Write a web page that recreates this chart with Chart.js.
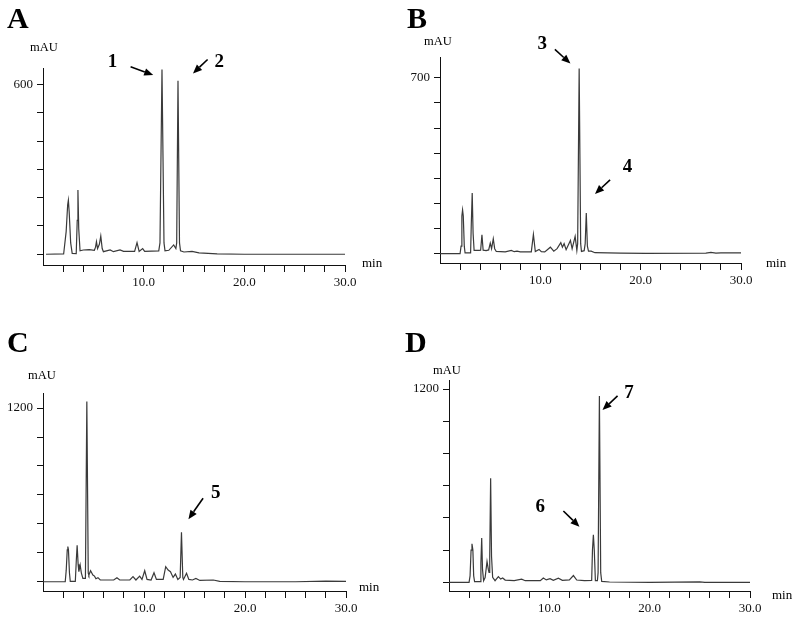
<!DOCTYPE html>
<html>
<head>
<meta charset="utf-8">
<script src="https://cdn.jsdelivr.net/npm/chart.js@4.4.1/dist/chart.umd.min.js"></script>
<style>
  body { margin: 0; background: #fff; }
  #page { position: relative; width: 800px; height: 620px; }
  .panel { position: absolute; width: 400px; height: 310px; }
</style>
</head>
<body>
<div id="page">
  <div class="panel" style="left:0;top:0"><canvas id="chartA" width="400" height="310"></canvas></div>
  <div class="panel" style="left:400px;top:0"><canvas id="chartB" width="400" height="310"></canvas></div>
  <div class="panel" style="left:0;top:310px"><canvas id="chartC" width="400" height="310"></canvas></div>
  <div class="panel" style="left:400px;top:310px"><canvas id="chartD" width="400" height="310"></canvas></div>
</div>
<script>
// retention time (min) and absorbance (mAU)
const timeA = [0.3, 2.05, 2.3, 2.45, 2.52, 2.6, 2.75, 2.9, 3.3, 3.4, 3.47, 3.55, 3.68, 4.0, 4.6, 5.1, 5.22, 5.31, 5.42, 5.6, 5.74, 5.88, 6.0, 6.67, 7.0, 7.65, 8.0, 9.1, 9.34, 9.55, 9.9, 10.1, 11.5, 11.62, 11.82, 12.02, 12.12, 12.5, 12.98, 13.2, 13.28, 13.41, 13.56, 13.66, 14.0, 14.8, 15.5, 17.3, 20, 25, 30];
const mauA  = [0, 1, 80, 175, 191, 150, 40, 3, 2, 120, 227, 90, 12, 15, 16, 14, 25, 44, 20, 35, 64, 20, 9, 15, 9, 15, 10, 10, 41, 10, 20, 10, 12, 40, 653, 40, 12, 14, 33, 20, 40, 613, 40, 12, 8, 10, 5, 1, 0, 0, 0];

const timeB = [0.0, 2.0, 2.1, 2.18, 2.25, 2.32, 2.42, 2.5, 3.05, 3.12, 3.21, 3.3, 3.4, 3.9, 4.05, 4.18, 4.3, 4.6, 4.85, 5.01, 5.14, 5.31, 5.45, 5.61, 6.5, 7.11, 7.4, 7.68, 8.0, 9.1, 9.31, 9.5, 9.87, 10.1, 10.44, 11.0, 11.34, 11.67, 12.04, 12.2, 12.37, 12.57, 13.0, 13.17, 13.47, 13.64, 13.72, 13.87, 14.02, 14.1, 14.37, 14.47, 14.58, 14.69, 14.8, 15.07, 15.44, 18, 20.5, 26.5, 27, 27.5, 28, 30];
const mauB  = [0, 0, 30, 150, 174, 150, 30, 3, 3, 120, 242, 80, 13, 13, 14, 75, 14, 12, 15, 42, 20, 59, 20, 9, 7, 13, 8, 10, 7, 7, 77, 9, 17, 8, 7, 26, 10, 20, 44, 26, 40, 16, 53, 20, 69, 13, 40, 737, 40, 9, 12, 40, 162, 30, 10, 10, 4, 2, 1, 2, 5, 2, 3, 3];

const timeC = [0.0, 2.2, 2.3, 2.4, 2.46, 2.52, 2.62, 2.7, 3.2, 3.3, 3.38, 3.48, 3.55, 3.68, 3.8, 3.95, 4.2, 4.34, 4.48, 4.54, 4.71, 4.94, 5.1, 5.24, 5.44, 5.67, 7.0, 7.32, 7.6, 8.6, 8.91, 9.2, 9.57, 9.8, 10.07, 10.3, 10.7, 10.99, 11.23, 11.9, 12.15, 12.39, 12.62, 12.88, 13.11, 13.35, 13.58, 13.71, 13.84, 13.91, 14.21, 14.44, 14.8, 15.14, 15.53, 16.86, 17.5, 20, 25, 28, 30];
const mauC  = [0, 0, 80, 220, 243, 220, 60, 3, 3, 150, 252, 120, 69, 115, 60, 23, 23, 1246, 60, 46, 76, 46, 39, 21, 28, 12, 12, 28, 12, 12, 35, 12, 39, 16, 76, 16, 12, 62, 16, 16, 104, 81, 69, 30, 53, 16, 30, 342, 30, 16, 58, 16, 12, 23, 9, 12, 3, 0, 0, 4, 3];

const timeD = [0.0, 2.0, 2.1, 2.2, 2.29, 2.38, 2.46, 2.55, 3.1, 3.18, 3.26, 3.34, 3.45, 3.6, 3.79, 3.92, 3.99, 4.06, 4.15, 4.24, 4.35, 4.59, 4.92, 5.15, 5.35, 5.6, 6.5, 7.24, 7.6, 9.1, 9.4, 9.7, 10.07, 10.4, 10.9, 11.3, 12.0, 12.4, 12.73, 13.5, 14.22, 14.3, 14.39, 14.48, 14.59, 14.79, 14.86, 14.99, 15.12, 15.22, 16, 20, 25, 25.5, 30];
const mauD  = [0, 0, 40, 200, 239, 200, 40, 4, 4, 120, 275, 80, 10, 30, 129, 80, 62, 160, 646, 160, 31, 10, 35, 20, 27, 14, 10, 19, 10, 10, 27, 15, 23, 12, 25, 12, 15, 42, 14, 10, 12, 200, 295, 200, 10, 10, 60, 1157, 60, 6, 2, 0, 3, 0, 0];

// axis ticks
const xTicks = [2, 4, 6, 8, 10, 12, 14, 16, 18, 20, 22, 24, 26, 28, 30];
const yTicksA = [0, 100, 200, 300, 400, 500, 600];
const yTicksB = [0, 100, 200, 300, 400, 500, 600, 700];
const yTicksCD = [0, 200, 400, 600, 800, 1000, 1200];

const serif = '"Liberation Serif", "Times New Roman", serif';

// per-panel layout; area is the plot box inside the 400x310 canvas
const panels = {
  chartA: {
    letter: 'A', letterAt: [7, 28], mauAt: [30, 48], minAt: [362, 264],
    area: {left: 43, top: 68, right: 345, bottom: 265},
    yMin: -38, yMax: 658, yTicks: yTicksA, time: timeA, mau: mauA,
    peaks: [
      {label: '1', at: [6.9, 679], from: [8.7, 662], to: [10.95, 633]},
      {label: '2', at: [17.5, 679], from: [16.35, 688], to: [14.9, 639]}
    ]
  },
  chartB: {
    letter: 'B', letterAt: [7, 28], mauAt: [24, 42], minAt: [366, 264],
    area: {left: 40, top: 57, right: 341, bottom: 263},
    yMin: -37, yMax: 783, yTicks: yTicksB, time: timeB, mau: mauB,
    peaks: [
      {label: '3', at: [10.2, 834], from: [11.45, 813], to: [13.0, 757]},
      {label: '4', at: [18.7, 343], from: [16.95, 294], to: [15.45, 238]}
    ]
  },
  chartC: {
    letter: 'C', letterAt: [7, 42], mauAt: [28, 66], minAt: [359, 278],
    area: {left: 43, top: 83, right: 346, bottom: 281},
    yMin: -64, yMax: 1304, yTicks: yTicksCD, time: timeC, mau: mauC,
    peaks: [
      {label: '5', at: [17.1, 612], from: [15.85, 577], to: [14.4, 432]}
    ]
  },
  chartD: {
    letter: 'D', letterAt: [5, 42], mauAt: [33, 61], minAt: [372, 286],
    area: {left: 49, top: 70, right: 350, bottom: 281},
    yMin: -54, yMax: 1256, yTicks: yTicksCD, time: timeD, mau: mauD,
    peaks: [
      {label: '7', at: [17.95, 1174], from: [16.8, 1157], to: [15.3, 1070]},
      {label: '6', at: [9.1, 469], from: [11.4, 443], to: [13.0, 345]}
    ]
  }
};

function arrow(ctx, x1, y1, x2, y2) {
  const a = Math.atan2(y2 - y1, x2 - x1);
  const head = 9, half = 3.8;
  const bx = x2 - head * Math.cos(a), by = y2 - head * Math.sin(a);
  ctx.lineWidth = 1.6;
  ctx.beginPath();
  ctx.moveTo(x1, y1);
  ctx.lineTo(bx, by);
  ctx.stroke();
  ctx.beginPath();
  ctx.moveTo(x2, y2);
  ctx.lineTo(bx + half * Math.sin(a), by - half * Math.cos(a));
  ctx.lineTo(bx - half * Math.sin(a), by + half * Math.cos(a));
  ctx.closePath();
  ctx.fill();
}

const notesPlugin = {
  id: 'notes',
  afterDraw(chart) {
    const p = panels[chart.canvas.id];
    const {ctx} = chart;
    const x = chart.scales.x, y = chart.scales.y;
    ctx.save();
    ctx.fillStyle = '#000';
    ctx.strokeStyle = '#000';
    ctx.textAlign = 'left';
    ctx.textBaseline = 'alphabetic';
    ctx.font = 'bold 30px ' + serif;
    ctx.fillText(p.letter, p.letterAt[0], p.letterAt[1]);
    ctx.textBaseline = 'middle';
    ctx.font = '12.5px ' + serif;
    ctx.fillText('mAU', p.mauAt[0], p.mauAt[1]);
    ctx.font = '13px ' + serif;
    ctx.fillText('min', p.minAt[0], p.minAt[1]);
    ctx.textAlign = 'center';
    ctx.font = 'bold 19px ' + serif;
    p.peaks.forEach(pk => {
      ctx.fillText(pk.label, x.getPixelForValue(pk.at[0]), y.getPixelForValue(pk.at[1]));
      arrow(ctx,
        x.getPixelForValue(pk.from[0]), y.getPixelForValue(pk.from[1]),
        x.getPixelForValue(pk.to[0]), y.getPixelForValue(pk.to[1]));
    });
    ctx.restore();
  }
};

function makeChart(id) {
  const p = panels[id];
  return new Chart(document.getElementById(id), {
    type: 'line',
    data: {
      datasets: [{
        data: p.time.map((t, i) => ({x: t, y: p.mau[i]})),
        borderColor: '#3a3a3a',
        borderWidth: 1.2,
        pointRadius: 0,
        tension: 0,
        fill: false
      }]
    },
    options: {
      responsive: false,
      animation: false,
      devicePixelRatio: 1,
      layout: {padding: {left: 0, top: p.area.top, right: 400 - p.area.right, bottom: 0}},
      plugins: {legend: {display: false}, tooltip: {enabled: false}},
      scales: {
        x: {
          type: 'linear', min: 0, max: 30,
          afterFit: (s) => { s.height = 310 - p.area.bottom; },
          afterBuildTicks: (s) => { s.ticks = xTicks.map(v => ({value: v})); },
          grid: {drawOnChartArea: false, tickLength: 7, color: '#111'},
          border: {color: '#111', width: 1},
          ticks: {
            autoSkip: false, maxRotation: 0, padding: 3, color: '#111',
            font: {family: serif, size: 13},
            callback: (v) => v % 10 === 0 ? v.toFixed(1) : ''
          }
        },
        y: {
          type: 'linear', min: p.yMin, max: p.yMax,
          afterFit: (s) => { s.width = p.area.left; },
          afterBuildTicks: (s) => { s.ticks = p.yTicks.map(v => ({value: v})); },
          grid: {drawOnChartArea: false, tickLength: 6, color: '#111'},
          border: {color: '#111', width: 1},
          ticks: {
            autoSkip: false, padding: 4, color: '#111',
            font: {family: serif, size: 13},
            callback: (v) => v === p.yTicks[p.yTicks.length - 1] ? String(v) : ''
          }
        }
      }
    },
    plugins: [notesPlugin]
  });
}

['chartA', 'chartB', 'chartC', 'chartD'].forEach(makeChart);
</script>
</body>
</html>
